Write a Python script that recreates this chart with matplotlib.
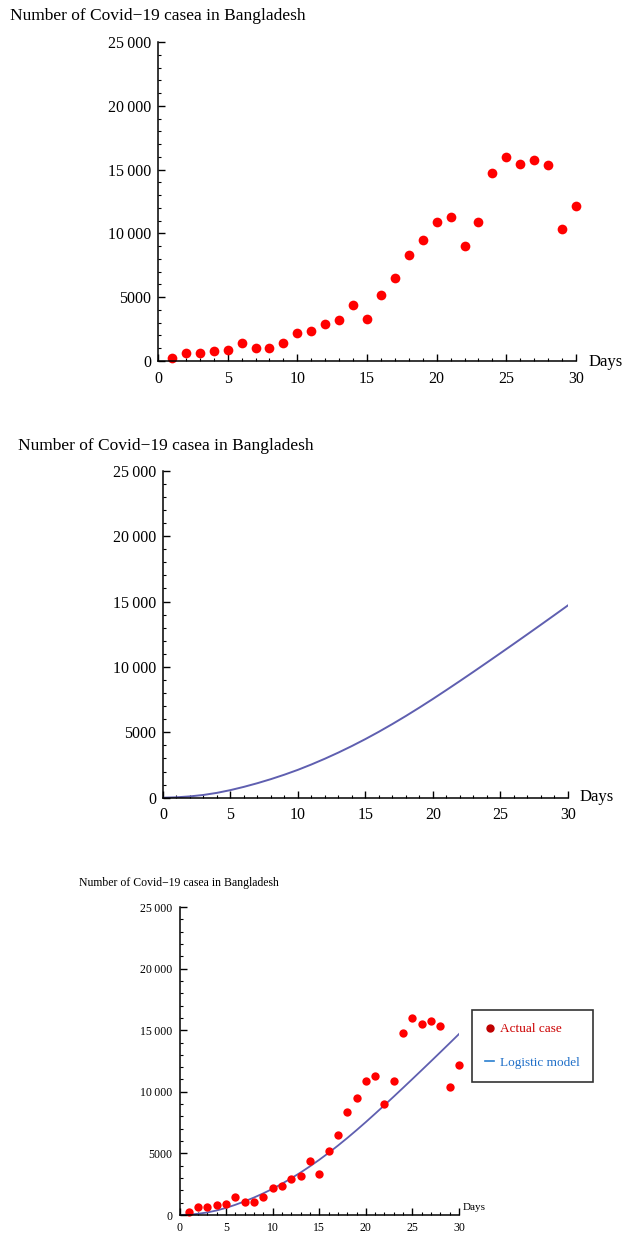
import matplotlib
matplotlib.use("Agg")
import matplotlib.pyplot as plt
from matplotlib.lines import Line2D
from matplotlib.ticker import MultipleLocator

# daily confirmed cases
days = list(range(1, 31))
actual_cases = [230, 620, 620, 780, 860, 1430, 1040, 1040, 1430, 2210,
                2360, 2890, 3200, 4370, 3330, 5200, 6500, 8330, 9490, 10870,
                11310, 9000, 10870, 14770, 16000, 15470, 15760, 15340, 10350, 12170]

# logistic model curve
model_days = list(range(0, 31))
model_cases = [0, 30, 100, 210, 370, 580, 830, 1110, 1420, 1760,
               2130, 2540, 2980, 3450, 3950, 4480, 5040, 5630, 6245, 6885,
               7545, 8225, 8915, 9615, 10325, 11040, 11760, 12485, 13215, 13950,
               14690]

x_ticks = [0, 5, 10, 15, 20, 25, 30]
y_ticks = [0, 5000, 10000, 15000, 20000, 25000]
y_tick_labels = ["0", "5000", "10\u2009000", "15\u2009000", "20\u2009000", "25\u2009000"]

title = "Number of Covid\u221219 casea in Bangladesh"
serif = ["Liberation Serif", "DejaVu Serif"]
dot_red = "#ff0000"
curve_col = "#5f5fb0"

W, H = 626, 1242


def axes_px(fig, left, right, bottom, top):
    return fig.add_axes([left / W, 1 - bottom / H, (right - left) / W, (bottom - top) / H])


def style(ax, fs, xpad):
    ax.set_xlim(0, 30)
    ax.set_ylim(0, 25000)
    ax.spines["top"].set_visible(False)
    ax.spines["right"].set_visible(False)
    ax.spines["left"].set_linewidth(1.1)
    ax.spines["bottom"].set_linewidth(1.1)
    ax.set_xticks(x_ticks)
    ax.set_yticks(y_ticks)
    ax.set_yticklabels(y_tick_labels)
    ax.xaxis.set_minor_locator(MultipleLocator(1))
    ax.yaxis.set_minor_locator(MultipleLocator(1000))
    ax.tick_params(which="major", direction="in", length=5, width=1.0, pad=5, labelsize=fs)
    ax.tick_params(axis="x", which="major", pad=xpad)
    ax.tick_params(which="minor", direction="in", length=2.5, width=0.8)
    for lab in ax.get_xticklabels() + ax.get_yticklabels():
        lab.set_family(serif)
    ax.patch.set_alpha(0)


def main():
    fig = plt.figure(figsize=(W / 100, H / 100), dpi=100)

    # top: actual cases
    ax1 = axes_px(fig, 158, 576, 361, 42)
    ax1.plot(days, actual_cases, "o", color=dot_red, markersize=7, markeredgewidth=0,
             clip_on=False)
    style(ax1, 11.5, 7)
    fig.text(10 / W, 1 - 16 / H, title, family=serif, fontsize=12.5, va="center", ha="left")
    fig.text(589 / W, 1 - 362 / H, "Days", family=serif, fontsize=12, va="center", ha="left")

    # middle: logistic model
    ax2 = axes_px(fig, 163, 567.7, 797.7, 470.7)
    ax2.plot(model_days, model_cases, color=curve_col, linewidth=1.4)
    style(ax2, 11.5, 7)
    fig.text(18 / W, 1 - 446 / H, title, family=serif, fontsize=12.5, va="center", ha="left")
    fig.text(580 / W, 1 - 797 / H, "Days", family=serif, fontsize=12, va="center", ha="left")

    # bottom: both together
    ax3 = axes_px(fig, 179.5, 459, 1215, 907)
    ax3.plot(model_days, model_cases, color=curve_col, linewidth=1.3)
    ax3.plot(days, actual_cases, "o", color=dot_red, markersize=6, markeredgewidth=0,
             clip_on=False)
    style(ax3, 8.5, 5)
    fig.text(79 / W, 1 - 883 / H, title, family=serif, fontsize=8.5, va="center", ha="left")
    fig.text(463 / W, 1 - 1207 / H, "Days", family=serif, fontsize=8, va="center", ha="left")

    handles = [
        Line2D([], [], marker="o", linestyle="none", color="#c00000", markersize=5),
        Line2D([], [], color="#2a7fd0", linewidth=1.2),
    ]
    leg = fig.legend(handles, ["Actual case", "Logistic model"],
                     loc="upper left", bbox_to_anchor=(472 / W, 1 - 1010 / H),
                     frameon=True, fancybox=False, edgecolor="black",
                     prop={"family": serif, "size": 9.5}, handlelength=0.7,
                     handletextpad=0.4, labelspacing=1.6, borderpad=1.0,
                     borderaxespad=0)
    leg.get_frame().set_linewidth(1.2)
    leg.get_texts()[0].set_color("#cc0000")
    leg.get_texts()[1].set_color("#1f6fc8")

    fig.savefig("out.png", dpi=100)
    plt.close(fig)


if __name__ == "__main__":
    main()
